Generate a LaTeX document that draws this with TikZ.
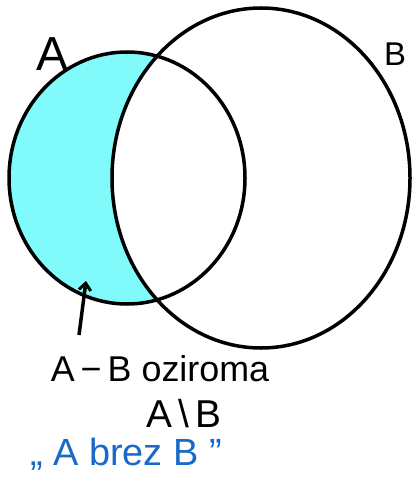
\documentclass[tikz,border=0pt]{standalone}
\usepackage{fontspec}
\setmainfont{Liberation Sans}
\usetikzlibrary{arrows.meta}
\definecolor{fillcyan}{RGB}{128,250,250}
\definecolor{penblue}{RGB}{25,105,200}
\begin{document}
\begin{tikzpicture}[x=1bp,y=-1bp,
  ring/.style={line width=3.5bp,draw=black},
  hand/.style={inner sep=0pt,font=\fontsize{36}{40}\selectfont},
  pointer/.style={line width=3.5bp,-{Straight Barb[length=7bp,width=12bp,line width=3bp]}}]
\useasboundingbox (0,0) rectangle (411,481);
% regions
\fill[fillcyan] (127,178) ellipse [x radius=118, y radius=126];
\fill[white] (261,178) ellipse [x radius=149, y radius=170];
\draw[ring] (127,178) ellipse [x radius=118, y radius=126];
\draw[ring] (261,178) ellipse [x radius=149, y radius=170];
% labels
\node[hand,font=\fontsize{48}{52}\selectfont] (labA) at (52,54) {A};
\node[hand,font=\fontsize{33}{36}\selectfont] (labB) at (395,54) {B};
\node[hand] (diff) at (160,369) {A\,−\,B oziroma};
\node[hand,font=\fontsize{39}{42}\selectfont] (setm) at (184,414) {A\,\textbackslash\,B};
\node[hand,text=penblue,font=\fontsize{38}{42}\selectfont] (read) at (126,454) {„ A brez B "};
% arrow
\coordinate (tail) at (79,335);
\coordinate (tip) at (86,281);
\draw[pointer] (tail) -- (tip);
\end{tikzpicture}
\end{document}
